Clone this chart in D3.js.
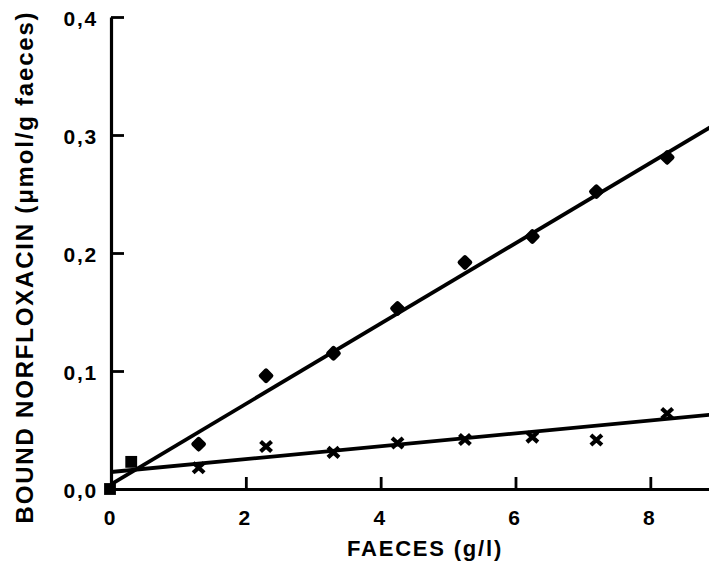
<!DOCTYPE html>
<html>
<head>
<meta charset="utf-8">
<script src="https://cdn.jsdelivr.net/npm/d3@7"></script>
<style>
  body { margin: 0; background: #fff; }
  text { font-family: "Liberation Sans", Arial, Helvetica, sans-serif; font-weight: bold; fill: #000; }
</style>
</head>
<body>
<div id="chart"></div>
<script>
// faeces concentration (g/l)
const faeces = [0, 0.3, 1.3, 2.3, 3.3, 4.25, 5.25, 6.25, 7.2, 8.25];
// bound norfloxacin, filled markers
const boundDiamond = [0, 0.023, 0.038, 0.096, 0.115, 0.153, 0.192, 0.214, 0.252, 0.281];
// bound norfloxacin, crosses
const boundCross = [0, 0.023, 0.018, 0.036, 0.031, 0.039, 0.042, 0.044, 0.0415, 0.064];
// first points coincide for both series and are drawn as squares
const overlapCount = 2;

// fitted regression lines (end points)
const fitX = [0, 8.9];
const fitDiamond = [0.004, 0.307];
const fitCross = [0.0144, 0.063];

const xTicks = [0, 2, 4, 6, 8];
const yTicks = [0, 0.1, 0.2, 0.3, 0.4];

const width = 709, height = 568;

const svg = d3.select('#chart').append('svg')
    .attr('width', width)
    .attr('height', height);

const x = d3.scaleLinear().domain([0, 8.9]).range([111, 711]);
const y = d3.scaleLinear().domain([0, 0.4]).range([489, 17]);

const commaFmt = (d) => d3.format('.1f')(d).replace('.', ',');

// y axis
const yAxis = svg.append('g')
    .attr('transform', 'translate(' + x(0) + ',0)')
    .call(d3.axisLeft(y).tickValues(yTicks).tickFormat(commaFmt)
        .tickSize(-13).tickSizeOuter(0).tickPadding(13));

// x axis
const xAxis = svg.append('g')
    .attr('transform', 'translate(0,' + y(0) + ')')
    .call(d3.axisBottom(x).tickValues(xTicks).tickFormat(d3.format('d'))
        .tickSize(-12).tickSizeOuter(0).tickPadding(21));

[yAxis, xAxis].forEach((g) => {
    g.select('.domain').attr('stroke', '#000').attr('stroke-width', 3.2);
    g.selectAll('.tick line').attr('stroke', '#000').attr('stroke-width', 2.8);
    g.selectAll('.tick text')
        .attr('fill', '#000')
        .style('font-size', '21px')
        .style('letter-spacing', '1.8px');
});
xAxis.selectAll('.tick').filter((d) => d === 0).select('line').remove();
xAxis.selectAll('.tick text').attr('dx', '-1');
yAxis.selectAll('.tick text').attr('dy', '0.4em');

// axis titles
svg.append('text')
    .attr('x', 425)
    .attr('y', 556)
    .attr('text-anchor', 'middle')
    .style('font-size', '22px')
    .style('letter-spacing', '1.8px')
    .text('FAECES (g/l)');

svg.append('text')
    .attr('transform', 'translate(33,267) rotate(-90)')
    .attr('text-anchor', 'middle')
    .style('font-size', '24px')
    .style('letter-spacing', '1.8px')
    .text('BOUND NORFLOXACIN (\u03bcmol/g faeces)');

// regression lines
const fitLine = d3.line()
    .x((d) => x(d[0]))
    .y((d) => y(d[1]));

[fitDiamond, fitCross].forEach((fit) => {
    svg.append('path')
        .attr('d', fitLine(fitX.map((v, i) => [v, fit[i]])))
        .attr('fill', 'none')
        .attr('stroke', '#000')
        .attr('stroke-width', 3.8);
});

const pts = (vals) => faeces.map((v, i) => ({x: v, y: vals[i], i: i}));

// filled diamonds (rounded)
svg.append('g').selectAll('.diamond')
    .data(pts(boundDiamond).filter((d) => d.i >= overlapCount))
    .enter()
    .append('path')
    .attr('class', 'diamond')
    .attr('d', d3.symbol(d3.symbolSquare, 52)())
    .attr('transform', (d) => 'translate(' + x(d.x) + ',' + y(d.y) + ') rotate(45)')
    .attr('fill', '#000')
    .attr('stroke', '#000')
    .attr('stroke-width', 4.5)
    .attr('stroke-linejoin', 'round');

// crosses
const crossPath = (() => {
    const p = d3.path();
    p.moveTo(-5.5, -5); p.lineTo(5.5, 5);
    p.moveTo(5.5, -5); p.lineTo(-5.5, 5);
    return p.toString();
})();

svg.append('g').selectAll('.cross')
    .data(pts(boundCross).filter((d) => d.i >= overlapCount))
    .enter()
    .append('path')
    .attr('class', 'cross')
    .attr('d', crossPath)
    .attr('transform', (d) => 'translate(' + x(d.x) + ',' + y(d.y) + ')')
    .attr('fill', 'none')
    .attr('stroke', '#000')
    .attr('stroke-width', 4.2);

// squares where both series coincide
svg.append('g').selectAll('.square')
    .data(pts(boundDiamond).filter((d) => d.i < overlapCount))
    .enter()
    .append('path')
    .attr('class', 'square')
    .attr('d', d3.symbol(d3.symbolSquare, 140)())
    .attr('transform', (d) => 'translate(' + (x(d.x) - (d.i === 0 ? 1 : 0)) + ',' + y(d.y) + ')')
    .attr('fill', '#000');
</script>
</body>
</html>
